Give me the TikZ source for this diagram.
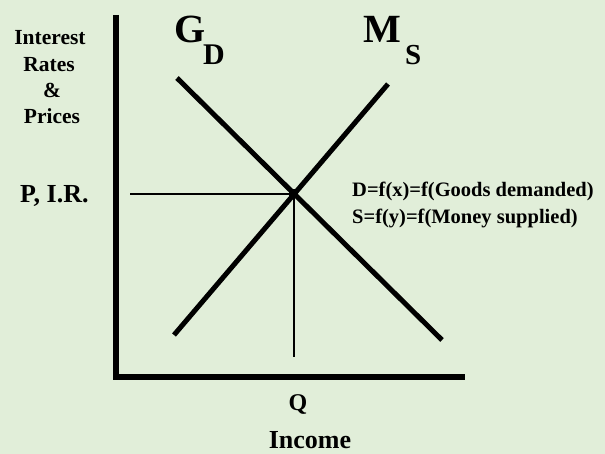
\documentclass[tikz,border=0pt]{standalone}
\usepackage{fontspec}
\setmainfont{Liberation Serif}
\definecolor{bg}{RGB}{225,238,217}
\begin{document}
\begin{tikzpicture}[x=1pt,y=-1pt,
  txt/.style={inner sep=0pt, anchor=base},
  axisline/.style={line width=5.5pt, line join=miter, line cap=butt},
  curve/.style={line width=5pt, line cap=butt},
  guide/.style={line width=1.2pt}]
\fill[bg] (0,0) rectangle (605,454);
\useasboundingbox (0,0) rectangle (605,454);
% axes
\coordinate (ytop) at (116,15);
\coordinate (orig) at (116,377);
\coordinate (xend) at (465,377);
\draw[axisline] (ytop) -- (orig) -- (xend);
% curves
\coordinate (dA) at (177,78);
\coordinate (dB) at (442,340);
\coordinate (sA) at (174,335);
\coordinate (sB) at (388,84);
\coordinate (eq) at (293,194);
\coordinate (hstart) at (130,194);
\coordinate (vend) at (294,357);
\draw[guide] (hstart) -- (eq);
\draw[guide] (eq) ++(1,0) -- (vend);
\draw[curve] (dA) -- (dB);
\draw[curve] (sA) -- (sB);
\node[fill=black, minimum size=9pt, inner sep=0pt] (dot) at (eq) {};
% labels
\begin{scope}[font=\bfseries\fontsize{21.5}{25}\selectfont]
\node[txt] (l1) at (50,45) {Interest};
\node[txt] (l2) at (49,72) {Rates};
\node[txt] (l3) at (52,98) {\&};
\node[txt] (l4) at (52,124) {Prices};
\end{scope}
\node[txt, anchor=base west, font=\bfseries\fontsize{26}{30}\selectfont] (pir) at (20,203) {P, I.R.};
\node[txt, anchor=base west, font=\bfseries\fontsize{40}{44}\selectfont] (G) at (174,43) {G};
\node[txt, anchor=base west, font=\bfseries\fontsize{30}{32}\selectfont] (Dsub) at (203,65) {D};
\node[txt, anchor=base west, font=\bfseries\fontsize{40}{44}\selectfont] (M) at (363,43) {M};
\node[txt, anchor=base west, font=\bfseries\fontsize{29}{32}\selectfont] (Ssub) at (405,65) {S};
\begin{scope}[font=\bfseries\fontsize{20.5}{24}\selectfont]
\node[txt, anchor=base west] (eqD) at (352,197) {D=f(x)=f(Goods demanded)};
\node[txt, anchor=base west] (eqS) at (352,224) {S=f(y)=f(Money supplied)};
\end{scope}
\node[txt, font=\bfseries\fontsize{24}{28}\selectfont] (Q) at (298,410) {Q};
\node[txt, font=\bfseries\fontsize{26}{30}\selectfont] (inc) at (310,448) {Income};
\end{tikzpicture}
\end{document}
